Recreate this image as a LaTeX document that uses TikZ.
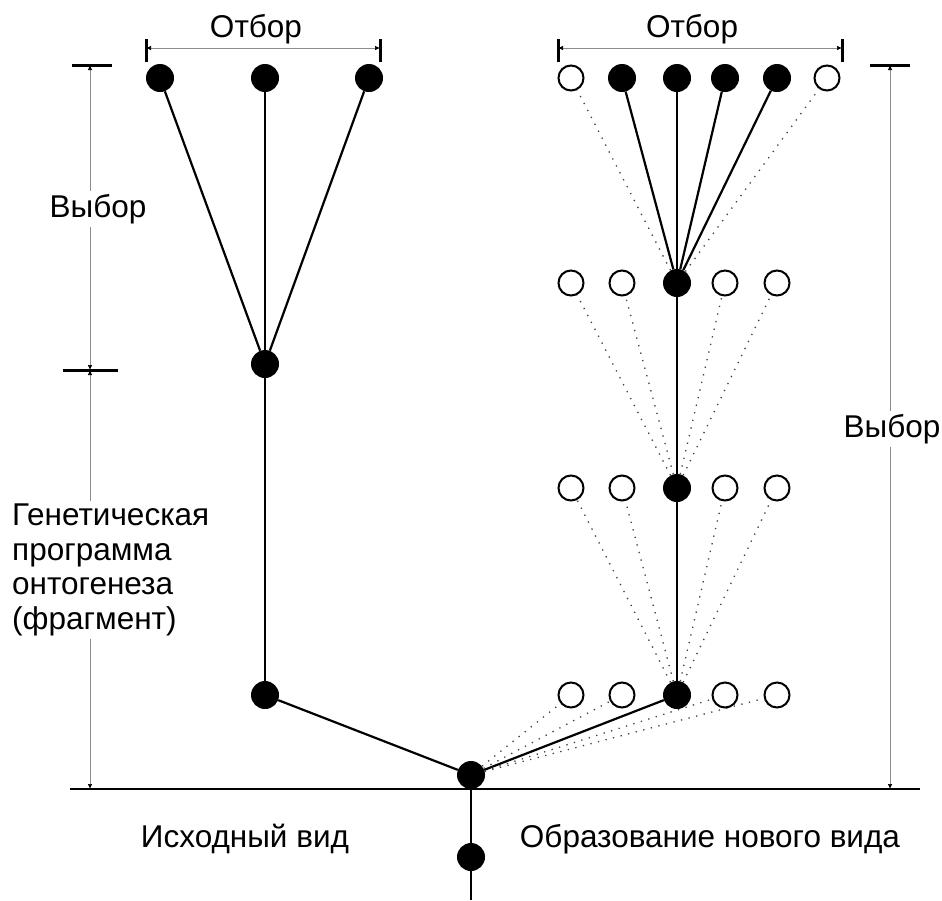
\documentclass[tikz,border=0pt]{standalone}
\usepackage{fontspec}
\setmainfont{Liberation Sans}
\usetikzlibrary{arrows.meta,backgrounds}
\begin{document}
\begin{tikzpicture}[x=1pt,y=-1pt,
  filled/.style={circle,fill=black,minimum size=28pt,inner sep=0pt},
  open/.style={circle,draw=black,line width=2pt,fill=white,minimum size=25pt,inner sep=0pt},
  solidline/.style={line width=2.2pt,black},
  dotline/.style={line width=1.3pt,black!75,dash pattern=on 1.3pt off 6.5pt},
  dimline/.style={line width=0.7pt,black!45,{Latex[length=5pt,width=4.5pt,black]}-{Latex[length=5pt,width=4.5pt,black]}},
  bar/.style={line width=3pt,black},
  lbl/.style={font=\fontsize{31.5}{34.5}\selectfont,inner sep=0pt},
  whitelbl/.style={lbl,fill=white,inner sep=3pt}
]
\useasboundingbox (0,0) rectangle (942,900);

% left tree nodes
\node[filled] (L1) at (160,78) {};
\node[filled] (L2) at (265,78) {};
\node[filled] (L3) at (369,78) {};
\node[filled] (LM) at (265,364) {};
\node[filled] (LB) at (265,695) {};
\node[filled] (R) at (471,775) {};
\node[filled] (B) at (471,857) {};
\coordinate (Bend) at (471,900);

% right: top row
\node[open] (T1) at (571,78) {};
\node[filled] (T2) at (622,78) {};
\node[filled] (T3) at (677,78) {};
\node[filled] (T4) at (725,78) {};
\node[filled] (T5) at (777,78) {};
\node[open] (T6) at (827,78) {};
% rows 2-4
\foreach \r/\y in {a/283,b/488,c/695}{
  \node[open] (\r1) at (571,\y) {};
  \node[open] (\r2) at (622,\y) {};
  \node[filled] (\r3) at (677,\y) {};
  \node[open] (\r4) at (725,\y) {};
  \node[open] (\r5) at (777,\y) {};
}

\begin{scope}[on background layer]
  % baseline
  \coordinate (base1) at (70,789);
  \coordinate (base2) at (920,789);
  \draw[line width=2pt] (base1) -- (base2);
  % left tree
  \draw[solidline] (LM) -- (L1);
  \draw[solidline] (LM) -- (L2);
  \draw[solidline] (LM) -- (L3);
  \draw[solidline] (LM) -- (LB);
  \draw[solidline] (LB) -- (R);
  \draw[solidline] (R) -- (B) -- (Bend);
  % right tree
  \draw[solidline] (R) -- (c3);
  \draw[solidline] (c3) -- (b3);
  \draw[solidline] (b3) -- (a3);
  \draw[solidline] (a3) -- (T2);
  \draw[solidline] (a3) -- (T3);
  \draw[solidline] (a3) -- (T4);
  \draw[solidline] (a3) -- (T5);
  % dotted
  \draw[dotline] (a3) -- (T1);
  \draw[dotline] (a3) -- (T6);
  \foreach \i in {1,2,4,5}{
    \draw[dotline] (b3) -- (a\i);
    \draw[dotline] (c3) -- (b\i);
    \draw[dotline] (R) -- (c\i);
  }
\end{scope}

% dimension: top left
\coordinate (hl1) at (146,48);
\coordinate (hl2) at (380,48);
\draw[bar] (146,39) -- (146,62);
\draw[bar] (380,39) -- (380,62);
\draw[dimline] (hl1) -- (hl2);
\node[lbl,anchor=base] (otb1) at (256,37) {Отбор};

% dimension: top right
\coordinate (hr1) at (558,48);
\coordinate (hr2) at (842,48);
\draw[bar] (558,39) -- (558,62);
\draw[bar] (842,39) -- (842,62);
\draw[dimline] (hr1) -- (hr2);
\node[lbl,anchor=base] (otb2) at (692,37) {Отбор};

% dimension: left vertical
\coordinate (vl1) at (90,65);
\coordinate (vl2) at (90,370);
\coordinate (vl3) at (90,789);
\draw[bar] (72,65) -- (112,65);
\draw[bar] (63,370) -- (118,370);
\draw[dimline] (vl1) -- (vl2);
\draw[dimline] (vl2) -- (vl3);
\node[whitelbl,anchor=base] (vyb1) at (98,217) {Выбор};
\node[whitelbl,anchor=north west,align=left] (gen) at (9,501)
  {Генетическая\\программа\\онтогенеза\\(фрагмент)};

% dimension: right vertical
\coordinate (vr1) at (890,65);
\coordinate (vr2) at (890,789);
\draw[bar] (870,65) -- (910,65);
\draw[dimline] (vr1) -- (vr2);
\node[whitelbl,anchor=base] (vyb2) at (892,437) {Выбор};

% bottom labels
\node[lbl,anchor=base] (isx) at (245,847) {Исходный вид};
\node[lbl,anchor=base] (obr) at (710,847) {Образование нового вида};
\end{tikzpicture}
\end{document}
